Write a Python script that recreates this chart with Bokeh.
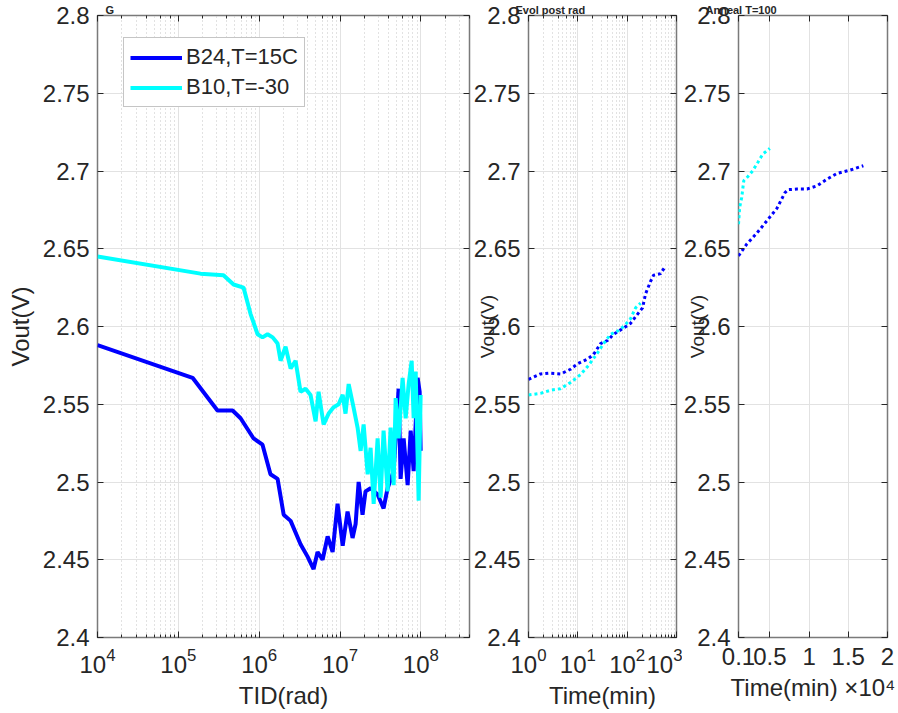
import numpy as np
from bokeh.plotting import figure
from bokeh.layouts import row
from bokeh.models import (LogAxis, LinearAxis, LogTicker, FixedTicker, Legend,
                          LegendItem, Range1d)
from bokeh.embed import file_html
from bokeh.resources import INLINE

# ---------------- data ----------------
tid_b24 = [1.0e4, 1.50e5, 3.05e5, 4.69e5, 5.89e5, 8.53e5, 1.10e6, 1.38e6, 1.69e6,
           2.01e6, 2.45e6, 3.25e6, 3.97e6, 4.71e6, 5.28e6, 6.09e6, 7.03e6, 8.10e6,
           9.33e6, 1.08e7, 1.24e7, 1.43e7, 1.56e7, 1.70e7, 1.90e7, 2.07e7, 2.39e7,
           2.92e7, 3.46e7, 3.88e7, 4.61e7, 5.31e7, 5.62e7, 6.13e7, 6.87e7, 7.49e7,
           8.15e7, 9.13e7, 9.67e7, 9.95e7]
vout_b24 = [2.588, 2.567, 2.546, 2.546, 2.541, 2.528, 2.524, 2.505, 2.502,
            2.479, 2.475, 2.460, 2.452, 2.444, 2.455, 2.450, 2.465, 2.455,
            2.486, 2.459, 2.481, 2.464, 2.473, 2.500, 2.479, 2.494, 2.496,
            2.492, 2.483, 2.496, 2.507, 2.560, 2.502, 2.528, 2.498, 2.533,
            2.507, 2.567, 2.558, 2.520]

tid_b10 = [1.0e4, 1.88e5, 3.62e5, 4.82e5, 6.41e5, 7.83e5, 9.56e5, 1.10e6, 1.27e6,
           1.47e6, 1.69e6, 1.84e6, 2.12e6, 2.45e6, 2.82e6, 3.25e6, 3.75e6, 4.32e6,
           4.99e6, 5.43e6, 6.27e6, 7.23e6, 8.33e6, 9.61e6, 1.08e7, 1.17e7, 1.28e7,
           1.47e7, 1.65e7, 1.80e7, 1.96e7, 2.20e7, 2.39e7, 2.61e7, 2.92e7, 3.18e7,
           3.46e7, 3.88e7, 4.23e7, 4.61e7, 4.88e7, 5.31e7, 5.95e7, 6.49e7, 7.07e7,
           7.70e7, 8.15e7, 8.63e7, 9.39e7, 9.95e7]
vout_b10 = [2.645, 2.634, 2.633, 2.627, 2.625, 2.608, 2.595, 2.593, 2.595,
            2.593, 2.589, 2.578, 2.587, 2.573, 2.578, 2.558, 2.560, 2.556,
            2.539, 2.558, 2.537, 2.544, 2.548, 2.550, 2.556, 2.544, 2.563,
            2.548, 2.535, 2.520, 2.537, 2.505, 2.522, 2.486, 2.528, 2.490,
            2.533, 2.494, 2.535, 2.498, 2.554, 2.528, 2.567, 2.541, 2.563,
            2.578, 2.541, 2.571, 2.488, 2.556]

t_post_b24 = [1.0, 1.75, 2.54, 4.46, 7.11, 9.86, 15.7, 20.8, 28.9, 40.0, 53.0,
              84.5, 117, 163, 205, 236, 298, 343, 476, 574]
v_post_b24 = [2.566, 2.5695, 2.570, 2.5695, 2.5725, 2.576, 2.579, 2.582, 2.589,
              2.591, 2.595, 2.599, 2.602, 2.608, 2.612, 2.621, 2.629, 2.633,
              2.634, 2.638]
t_post_b10 = [1.0, 1.75, 2.79, 4.46, 7.11, 11.3, 16.5, 25.1, 33.2, 46.0, 63.9,
              84.5, 117, 148, 187]
v_post_b10 = [2.556, 2.557, 2.559, 2.560, 2.564, 2.569, 2.575, 2.583, 2.589,
              2.595, 2.597, 2.600, 2.605, 2.612, 2.615]

t_ann_b24 = [1000, 2050, 3330, 4620, 5900, 6920, 7310, 8460, 9740, 11030,
             12310, 13590, 15260, 16920]
v_ann_b24 = [2.6454, 2.653, 2.660, 2.668, 2.676, 2.686, 2.688, 2.6884, 2.6884,
             2.6905, 2.6948, 2.6985, 2.7006, 2.7034]
t_ann_b10 = [1000, 1150, 1410, 1670, 2180, 2820, 3460, 4100, 5000]
v_ann_b10 = [2.6658, 2.6766, 2.683, 2.6937, 2.6963, 2.7002, 2.7055, 2.7109, 2.7145]

series_labels = ["B24,T=15C", "B10,T=-30"]
y_ticks = [2.4, 2.45, 2.5, 2.55, 2.6, 2.65, 2.7, 2.75, 2.8]
y_tick_labels = ["2.4", "2.45", "2.5", "2.55", "2.6", "2.65", "2.7", "2.75", "2.8"]
ann_ticks = [1000, 5000, 10000, 15000, 20000]
ann_tick_labels = ["0.1", "0.5", "1", "1.5", "2"]

# ---------------- style ----------------
FONT = "Liberation Sans"
TXT = "#262626"
FRAME = "#7a7a7a"
BLUE = "#0000ff"
CYAN = "#00ffff"
GRID = "#e2e2e2"
MINOR = "#c4c4c4"
TICK_FS = "24px"
YMIN, YMAX = 2.4, 2.8


def base_fig(x_axis_type, x_range, left, fw, right, title, title_offset):
    p = figure(x_axis_type=x_axis_type, x_range=x_range, y_range=Range1d(YMIN, YMAX),
               frame_width=fw, frame_height=622, min_border_left=left,
               min_border_right=right, min_border_top=15, min_border_bottom=76,
               output_backend="svg", toolbar_location=None, title=title)
    p.title.text_font = FONT
    p.title.text_font_size = "11px"
    p.title.text_font_style = "bold"
    p.title.text_color = TXT
    p.title.align = "left"
    p.title.offset = title_offset
    p.title.standoff = 0
    p.outline_line_color = FRAME
    p.outline_line_width = 1.5
    p.background_fill_color = "white"
    p.border_fill_color = "white"
    p.xgrid.grid_line_color = GRID
    p.ygrid.grid_line_color = GRID
    p.ygrid.ticker = FixedTicker(ticks=y_ticks)
    for ax in p.xaxis + p.yaxis:
        ax.axis_line_color = None
        ax.major_tick_in = 6
        ax.major_tick_out = 0
        ax.minor_tick_in = 3
        ax.minor_tick_out = 0
        ax.major_tick_line_color = TXT
        ax.minor_tick_line_color = TXT
        ax.major_label_text_font = FONT
        ax.major_label_text_font_size = TICK_FS
        ax.major_label_text_color = TXT
        ax.axis_label_text_font = FONT
        ax.axis_label_text_font_style = "normal"
        ax.axis_label_text_color = TXT
    p.yaxis.ticker = FixedTicker(ticks=y_ticks, minor_ticks=[])
    p.yaxis.major_label_overrides = {k: v for k, v in zip(y_ticks, y_tick_labels)}
    p.yaxis.major_label_standoff = 8
    p.xaxis.major_label_standoff = 10
    return p


def mirror(p, kind, side, ticker):
    ax = (LogAxis if kind == "log" else LinearAxis)(ticker=ticker)
    ax.axis_line_color = None
    ax.major_tick_in = 6
    ax.major_tick_out = 0
    ax.minor_tick_in = 3
    ax.minor_tick_out = 0
    ax.major_tick_line_color = TXT
    ax.minor_tick_line_color = TXT
    ax.major_label_text_font_size = "1px"
    ax.major_label_text_alpha = 0
    ax.major_label_standoff = 0
    p.add_layout(ax, side)


# ---------------- panel 1 ----------------
p1 = base_fig("log", Range1d(1e4, 4e8), 97, 372, 3, "G", 8)
p1.xgrid.minor_grid_line_color = MINOR
p1.xgrid.minor_grid_line_dash = "1 3"
p1.xaxis.axis_label = "TID(rad)"
p1.xaxis.axis_label_text_font_size = "24px"
p1.xaxis.axis_label_standoff = 6
p1.yaxis.axis_label = "Vout(V)"
p1.yaxis.axis_label_text_font_size = "24px"
p1.yaxis.axis_label_standoff = 6
mirror(p1, "log", "above", LogTicker())
mirror(p1, "lin", "right", FixedTicker(ticks=y_ticks, minor_ticks=[]))

r_b24 = p1.line(tid_b24, vout_b24, line_color=BLUE, line_width=4)
r_b10 = p1.line(tid_b10, vout_b10, line_color=CYAN, line_width=4)

legend = Legend(items=[LegendItem(label=series_labels[0], renderers=[r_b24]),
                       LegendItem(label=series_labels[1], renderers=[r_b10])],
                location=(26, 530))
legend.label_text_font = FONT
legend.label_text_font_size = "22px"
legend.label_text_color = TXT
legend.glyph_width = 52
legend.glyph_height = 25
legend.label_height = 25
legend.label_standoff = 4
legend.spacing = 4
legend.padding = 6
legend.margin = 0
legend.border_line_color = "#8c8c8c"
legend.border_line_width = 1
legend.background_fill_alpha = 1
p1.add_layout(legend)

# ---------------- panel 2 ----------------
p2 = base_fig("log", Range1d(1, 1000), 56, 148, 6, "Evol post rad", -13)
p2.xgrid.minor_grid_line_color = MINOR
p2.xgrid.minor_grid_line_dash = "1 3"
p2.xaxis.axis_label = "Time(min)"
p2.xaxis.axis_label_text_font_size = "24px"
p2.xaxis.axis_label_standoff = 6
p2.yaxis.axis_label = "Vout(V)"
p2.yaxis.axis_label_text_font_size = "19px"
p2.yaxis.axis_label_standoff = -27
mirror(p2, "log", "above", LogTicker())
mirror(p2, "lin", "right", FixedTicker(ticks=y_ticks, minor_ticks=[]))

p2.line(t_post_b24, v_post_b24, line_color=BLUE, line_width=3, line_dash="3 3")
p2.line(t_post_b10, v_post_b10, line_color=CYAN, line_width=3, line_dash="3 3")

# ---------------- panel 3 ----------------
p3 = base_fig("linear", Range1d(1000, 20000), 56, 149, 11, "Anneal T=100", -33)
p3.xaxis.ticker = FixedTicker(ticks=ann_ticks, minor_ticks=[])
p3.xaxis.major_label_overrides = {k: v for k, v in zip(ann_ticks, ann_tick_labels)}
p3.xaxis.axis_label = "Time(min) \u00d710\u2074"
p3.xaxis.axis_label_text_font_size = "24px"
p3.xaxis.axis_label_standoff = 6
p3.yaxis.axis_label = "Vout(V)"
p3.yaxis.axis_label_text_font_size = "19px"
p3.yaxis.axis_label_standoff = -27
p3.xgrid.ticker = FixedTicker(ticks=ann_ticks)
mirror(p3, "lin", "above", FixedTicker(ticks=ann_ticks, minor_ticks=[]))
mirror(p3, "lin", "right", FixedTicker(ticks=y_ticks, minor_ticks=[]))

p3.line(t_ann_b24, v_ann_b24, line_color=BLUE, line_width=3, line_dash="3 3")
p3.line(t_ann_b10, v_ann_b10, line_color=CYAN, line_width=3, line_dash="3 3")

layout = row(p1, p2, p3, spacing=0)
open("out.html", "w").write(file_html(layout, INLINE))
